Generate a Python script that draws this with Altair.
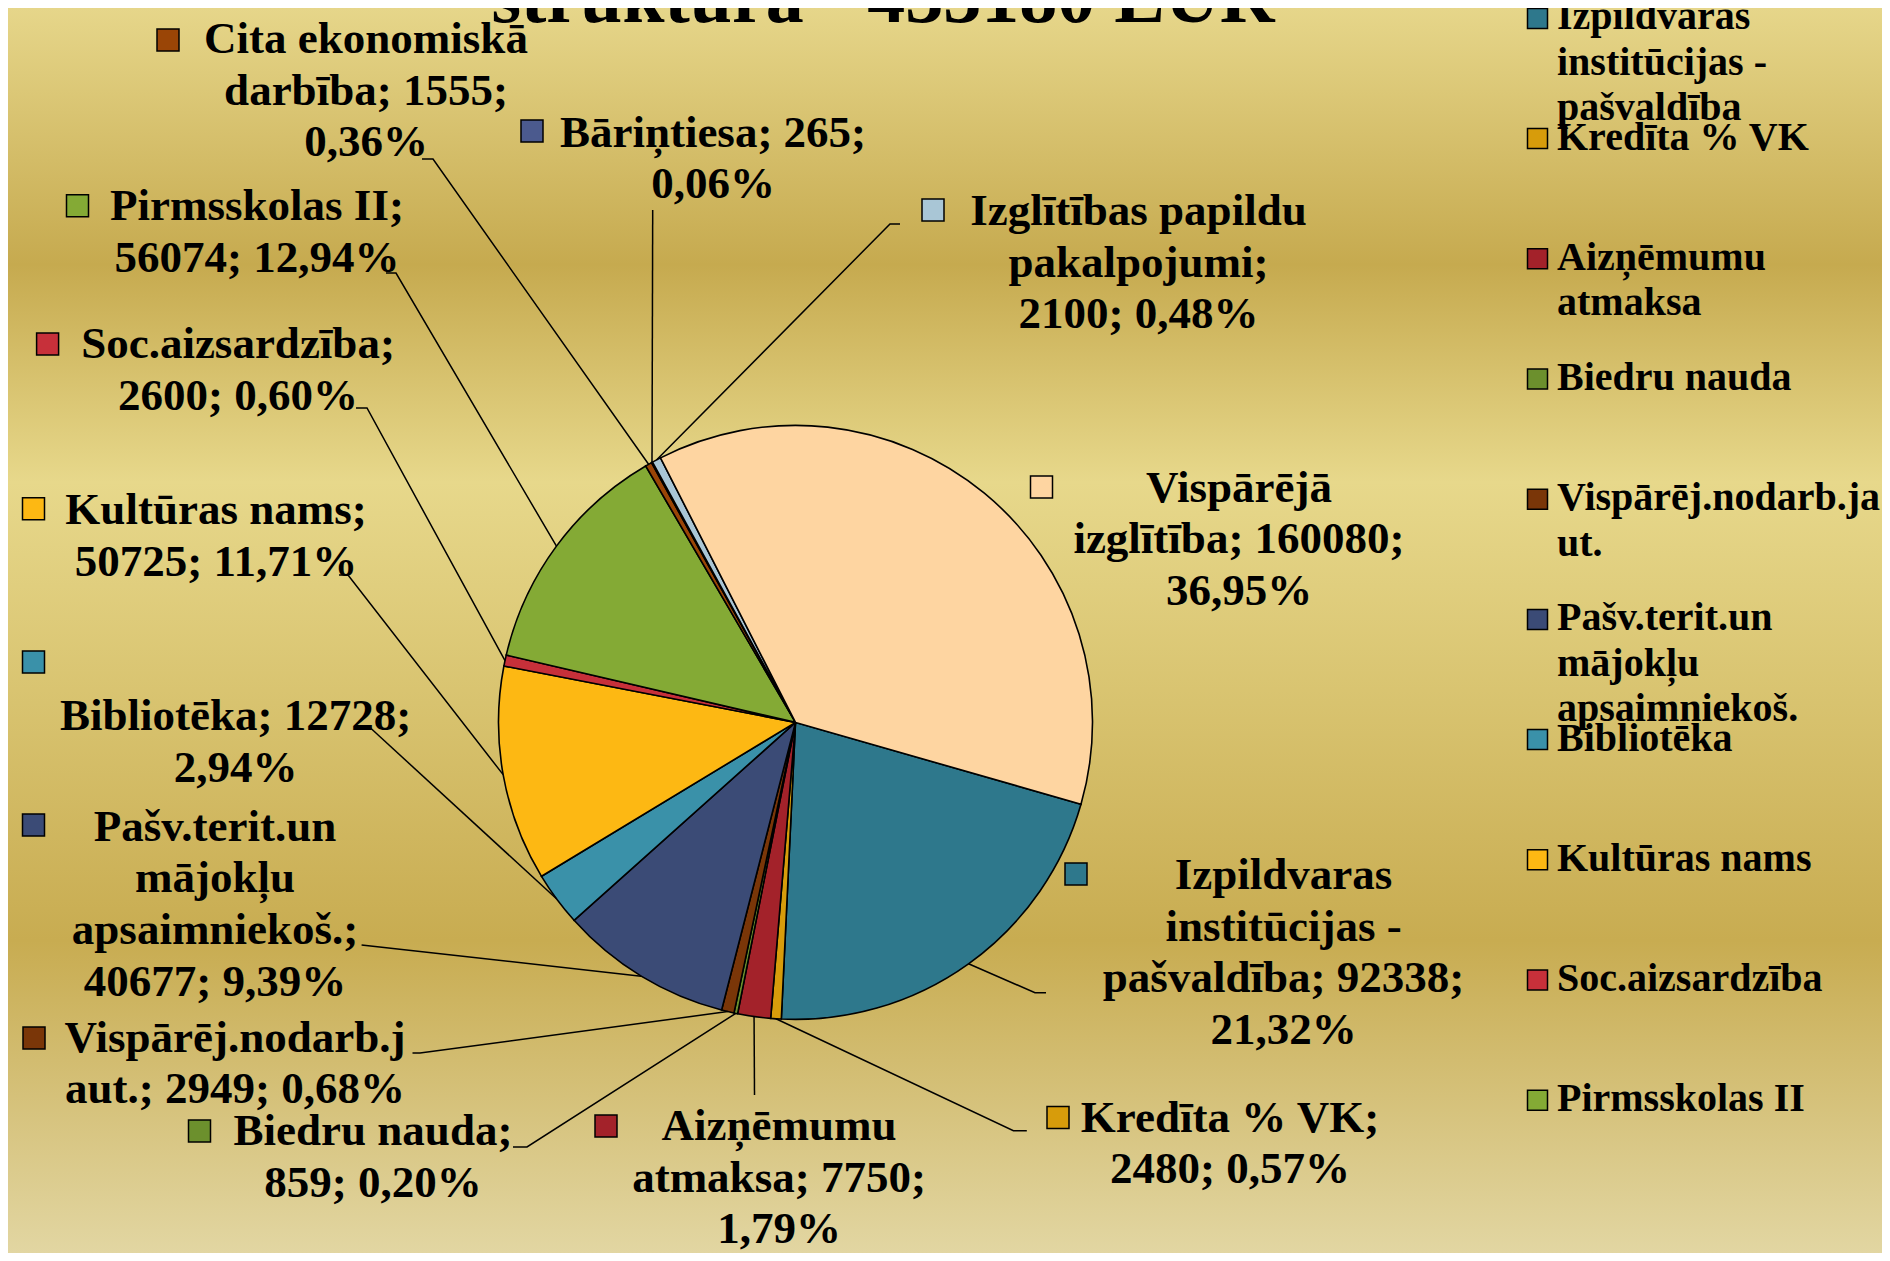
import math
import altair as alt
import pandas as pd

# ---------------- data ----------------
names = [
    "Izpildvaras institūcijas - pašvaldība",
    "Kredīta % VK",
    "Aizņēmumu atmaksa",
    "Biedru nauda",
    "Vispārēj.nodarb.jaut.",
    "Pašv.terit.un mājokļu apsaimniekoš.",
    "Bibliotēka",
    "Kultūras nams",
    "Soc.aizsardzība",
    "Pirmsskolas II",
    "Cita ekonomiskā darbība",
    "Bāriņtiesa",
    "Izglītības papildu pakalpojumi",
    "Vispārējā izglītība",
]
values = [92338, 2480, 7750, 859, 2949, 40677, 12728, 50725, 2600, 56074, 1555, 265, 2100, 160080]
colors = ["#2E788C", "#D79C0B", "#A3222A", "#6C902D", "#7A3608", "#3B4B76", "#3A91A9",
          "#FDB813", "#C7303A", "#84AA35", "#9A4506", "#4B5A8E", "#A9C6D6", "#FED5A1"]

label_lines = [
    ["Izpildvaras", "institūcijas -", "pašvaldība; 92338;", "21,32%"],
    ["Kredīta % VK;", "2480; 0,57%"],
    ["Aizņēmumu", "atmaksa; 7750;", "1,79%"],
    ["Biedru nauda;", "859; 0,20%"],
    ["Vispārēj.nodarb.j", "aut.; 2949; 0,68%"],
    ["Pašv.terit.un", "mājokļu", "apsaimniekoš.;", "40677; 9,39%"],
    ["Bibliotēka; 12728;", "2,94%"],
    ["Kultūras nams;", "50725; 11,71%"],
    ["Soc.aizsardzība;", "2600; 0,60%"],
    ["Pirmsskolas II;", "56074; 12,94%"],
    ["Cita ekonomiskā", "darbība; 1555;", "0,36%"],
    ["Bāriņtiesa; 265;", "0,06%"],
    ["Izglītības papildu", "pakalpojumi;", "2100; 0,48%"],
    ["Vispārējā", "izglītība; 160080;", "36,95%"],
]
legend_lines = [
    ["Izpildvaras", "institūcijas -", "pašvaldība"],
    ["Kredīta % VK"],
    ["Aizņēmumu", "atmaksa"],
    ["Biedru nauda"],
    ["Vispārēj.nodarb.ja", "ut."],
    ["Pašv.terit.un", "mājokļu", "apsaimniekoš."],
    ["Bibliotēka"],
    ["Kultūras nams"],
    ["Soc.aizsardzība"],
    ["Pirmsskolas II"],
]
title_text = "struktūra - 433180 EUR"

# ---------------- layout (reference pixel coordinates) ----------------
W, H = 1874, 1245
OFF = 8
CX, CY, R = 795.5 - OFF, 722.4 - OFF, 297
A0 = 106.0  # start angle of first slice, degrees clockwise from 12 o'clock
FONT = "Liberation Serif"
LH = 51.7
LEG_LH = 45.5

key_pos = [(1076, 874), (1058, 1117.5), (606, 1126), (199.5, 1131), (34, 1038), (33.5, 825),
           (33.5, 662), (33.5, 508.7), (47.6, 344), (77.5, 205.7), (168, 40), (532, 131),
           (933, 210), (1041.5, 487)]
text_pos = [(1283.5, 889), (1230, 1131.7), (779, 1140), (373, 1145), (235, 1051.7), (215, 840.7),
            (235.5, 730), (216, 524), (238, 358), (257, 220), (366, 53), (713, 146.7),
            (1138.5, 225), (1239, 501.7)]
leader = [
    [(1046, 992.7), (1035, 992.7)],
    [(1026.8, 1130.7), (1013.4, 1130.7)],
    [(754.5, 1095)],
    [(513, 1147), (527, 1147)],
    [(412.5, 1053), (420, 1053)],
    [(361.6, 945)],
    [(370.5, 728)],
    [(339, 575), (348, 575)],
    [(356, 408), (367, 408)],
    [(386, 273), (396, 273)],
    [(422, 159), (433, 159)],
    [(652.7, 210)],
    [(900, 224), (890, 224)],
    [],
]
leg_key_x, leg_text_x, leg_y0, leg_pitch = 1537.5, 1557, 18.4, 120.2

# ---------------- tables ----------------
TOTAL = sum(values)
pie_df = pd.DataFrame({"name": names, "value": values, "idx": list(range(len(names)))})

line_rows, cum = [], 0.0
for i, (n, v) in enumerate(zip(names, values)):
    mid = math.radians(A0 + (cum + v / 2) / TOTAL * 360)
    cum += v
    pts = leader[i]
    if not pts:
        continue
    for k, (x, y) in enumerate(pts):
        line_rows.append({"name": n, "k": k, "px": x - OFF, "py": y - OFF})
    line_rows.append({"name": n, "k": len(pts), "px": CX + R * math.sin(mid), "py": CY - R * math.cos(mid)})
lines_df = pd.DataFrame(line_rows)

text_rows, key_rows = [], []
for i, n in enumerate(names):
    tx, ty = text_pos[i]
    for j, t in enumerate(label_lines[i]):
        text_rows.append({"name": n, "t": t, "px": tx - OFF, "py": ty + j * LH - OFF})
    kx, ky = key_pos[i]
    key_rows.append({"name": n, "px": kx - OFF, "py": ky - OFF})
text_df = pd.DataFrame(text_rows)
key_df = pd.DataFrame(key_rows)

leg_text_rows, leg_key_rows = [], []
for i, lines in enumerate(legend_lines):
    yk = leg_y0 + i * leg_pitch
    leg_key_rows.append({"name": names[i], "px": leg_key_x - OFF, "py": yk - OFF})
    for j, t in enumerate(lines):
        leg_text_rows.append({"t": t, "px": leg_text_x - OFF, "py": yk + 11 + j * LEG_LH - OFF})
leg_text_df = pd.DataFrame(leg_text_rows)
leg_key_df = pd.DataFrame(leg_key_rows)

# ---------------- chart ----------------
fill_scale = alt.Scale(domain=names, range=colors)
X = lambda f: alt.X(f, type="quantitative", scale=None, axis=None)
Y = lambda f: alt.Y(f, type="quantitative", scale=None, axis=None)

stops = [(0.0, "#E6D68A"), (0.206, "#C6AA4F"), (0.381, "#E7D88B"), (0.749, "#C8AC51"), (1.0, "#E2D6A2")]
grad = alt.Gradient(gradient="linear", x1=0, x2=0, y1=0, y2=1,
                    stops=[alt.GradientStop(offset=o, color=c) for o, c in stops])
bg = alt.Chart(pd.DataFrame({"a": [0]})).mark_rect(color=grad).encode(
    x=alt.value(0), x2=alt.value(W), y=alt.value(0), y2=alt.value(H))

a0r = math.radians(A0)
pie = alt.Chart(pie_df).mark_arc(outerRadius=R, stroke="black", strokeWidth=1.6).encode(
    theta=alt.Theta("value:Q", stack=True, scale=alt.Scale(range=[a0r, a0r + 2 * math.pi])),
    fill=alt.Fill("name:N", scale=fill_scale, legend=None),
    order=alt.Order("idx:Q"),
    x=alt.value(CX), y=alt.value(CY))

leaders = alt.Chart(lines_df).mark_line(color="black", strokeWidth=1.5).encode(
    x=X("px"), y=Y("py"), detail="name:N", order="k:Q")

keys = alt.Chart(key_df).mark_square(size=22 * 22, filled=True, opacity=1, stroke="black", strokeWidth=1.5).encode(
    x=X("px"), y=Y("py"), fill=alt.Fill("name:N", scale=fill_scale, legend=None))

labels = alt.Chart(text_df).mark_text(font=FONT, fontWeight="bold", fontSize=45, align="center",
                                      baseline="alphabetic", color="black").encode(
    x=X("px"), y=Y("py"), text="t:N")

leg_keys = alt.Chart(leg_key_df).mark_square(size=20 * 20, filled=True, opacity=1, stroke="black", strokeWidth=1.5).encode(
    x=X("px"), y=Y("py"), fill=alt.Fill("name:N", scale=fill_scale, legend=None))

leg_text = alt.Chart(leg_text_df).mark_text(font=FONT, fontWeight="bold", fontSize=40, align="left",
                                            baseline="alphabetic", color="black").encode(
    x=X("px"), y=Y("py"), text="t:N")

title = alt.Chart(pd.DataFrame({"t": [title_text], "px": [883 - OFF], "py": [21.7 - OFF]})).mark_text(
    font=FONT, fontWeight="bold", fontSize=76, align="center", baseline="alphabetic", color="black").encode(
    x=X("px"), y=Y("py"), text="t:N")

chart = alt.layer(bg, pie, leaders, keys, labels, leg_keys, leg_text, title).properties(
    width=W, height=H, autosize=alt.AutoSizeParams(type="none"), padding=0
).configure_view(stroke=None).configure(background="#E2D6A2")

chart.save("out.html", embed_options={"renderer": "svg", "actions": False})
